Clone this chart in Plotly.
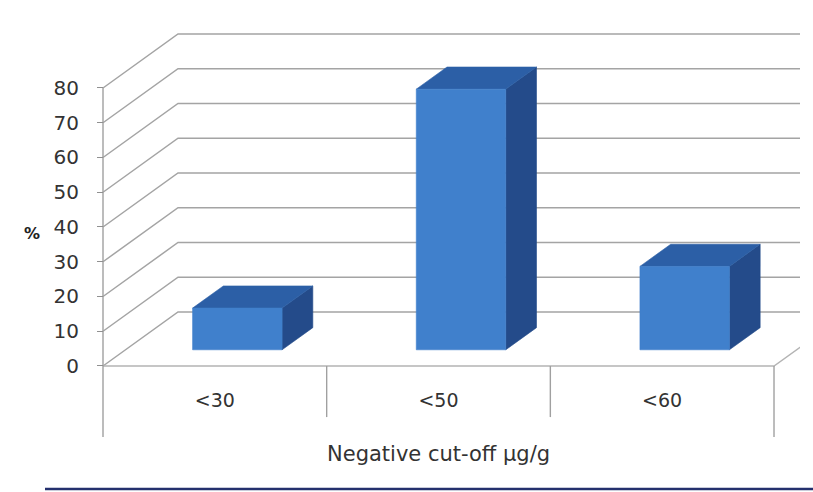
import plotly.graph_objects as go

# ---- data ----
categories = ["<30", "<50", "<60"]
percent = [12, 75, 24]
y_ticks = [0, 10, 20, 30, 40, 50, 60, 70, 80]
x_title = "Negative cut-off µg/g"
y_title = "%"

# ---- 3-D look: oblique projection of (x, value, depth) onto the 2-D axes ----
KX = 0.3353      # x shift (category units) for full depth
KY = 15.54       # value shift for full depth
BAR_W = 0.40     # bar width as a fraction of a category
D0, D1 = 0.30, 0.71   # front / back depth of the bars

FONT = "DejaVu Sans"
TXT = "#333333"
GRID = "#a4a4a4"
FRONT = "#4080cc"
TOP = "#2c5fa6"
SIDE = "#244b8a"

n = len(categories)
ymax = y_ticks[-1]


def proj(x, v, d):
    return x + KX * d, v + KY * d


def poly(points):
    xs, ys = [], []
    for x, v, d in points:
        px, py = proj(x, v, d)
        xs.append(px)
        ys.append(py)
    xs.append(xs[0])
    ys.append(ys[0])
    return xs, ys


fig = go.Figure()

# walls and floor gridlines: front edge -> side wall diagonal -> back wall
gx, gy = [], []
for t in y_ticks:
    for x, v, d in [(0, t, 0), (0, t, 1), (n, t, 1)]:
        px, py = proj(x, v, d)
        gx.append(px)
        gy.append(py)
    gx.append(None)
    gy.append(None)
fig.add_trace(go.Scatter(x=gx, y=gy, mode="lines",
                         line=dict(color=GRID, width=1.5), hoverinfo="skip"))

# floor front edge and right edge
fx, fy = [], []
for x, v, d in [(0, 0, 0), (n, 0, 0), (n, 0, 1)]:
    px, py = proj(x, v, d)
    fx.append(px)
    fy.append(py)
fig.add_trace(go.Scatter(x=fx, y=fy, mode="lines",
                         line=dict(color="#b4b4b4", width=1.4), hoverinfo="skip"))

# value axis line and category separators below the floor
low_outer = -20.4
low_inner = -14.7
ax_x = [0, 0, None, n, n]
ax_y = [ymax, low_outer, None, 0, low_outer]
for k in range(1, n):
    ax_x += [None, k, k]
    ax_y += [None, 0, low_inner]
fig.add_trace(go.Scatter(x=ax_x, y=ax_y, mode="lines",
                         line=dict(color="#a0a0a0", width=1.4), hoverinfo="skip"))

# 3-D columns
for i, val in enumerate(percent):
    x0 = i + 0.5 - BAR_W / 2
    x1 = i + 0.5 + BAR_W / 2
    faces = [
        ([(x1, 0, D0), (x1, 0, D1), (x1, val, D1), (x1, val, D0)], SIDE),
        ([(x0, val, D0), (x1, val, D0), (x1, val, D1), (x0, val, D1)], TOP),
        ([(x0, 0, D0), (x1, 0, D0), (x1, val, D0), (x0, val, D0)], FRONT),
    ]
    for pts, col in faces:
        xs, ys = poly(pts)
        fig.add_trace(go.Scatter(x=xs, y=ys, mode="lines", fill="toself",
                                 fillcolor=col, line=dict(color=col, width=0.6),
                                 hoverinfo="skip"))

# category labels under the floor
fig.add_trace(go.Scatter(x=[i + 0.5 for i in range(n)], y=[-10.4] * n,
                         mode="text", text=categories,
                         textfont=dict(family=FONT, size=19, color=TXT),
                         hoverinfo="skip", cliponaxis=False))

# category axis title
fig.add_annotation(x=n / 2, y=-25.4, xref="x", yref="y", text=x_title,
                   showarrow=False, font=dict(family=FONT, size=21, color=TXT))

# value axis title
fig.add_annotation(x=22 / 813, y=1 - 233 / 492, xref="paper", yref="paper",
                   text="<b>" + y_title + "</b>", showarrow=False,
                   font=dict(family=FONT, size=16, color="#222222"))

# frame line along the bottom
fig.add_shape(type="line", xref="paper", yref="paper",
              x0=45 / 813, x1=1, y0=1 - 489 / 492, y1=1 - 489 / 492,
              line=dict(color="#24306e", width=2.5))

fig.update_layout(
    width=813, height=492,
    margin=dict(l=0, r=0, t=0, b=0),
    paper_bgcolor="white", plot_bgcolor="white",
    showlegend=False,
    xaxis=dict(domain=[0, 800 / 813], range=[-0.4605, 3.1162], visible=False,
               fixedrange=True),
    yaxis=dict(range=[-36.26, 105.32], anchor="free", position=103 / 813,
               tickvals=y_ticks, ticks="outside", ticklen=6, tickwidth=1.3,
               tickcolor="#909090", showgrid=False, zeroline=False,
               showline=False, ticklabelstandoff=14,
               tickfont=dict(family=FONT, size=20, color=TXT),
               fixedrange=True),
)

fig.write_html("out.html", config={"displayModeBar": False})
